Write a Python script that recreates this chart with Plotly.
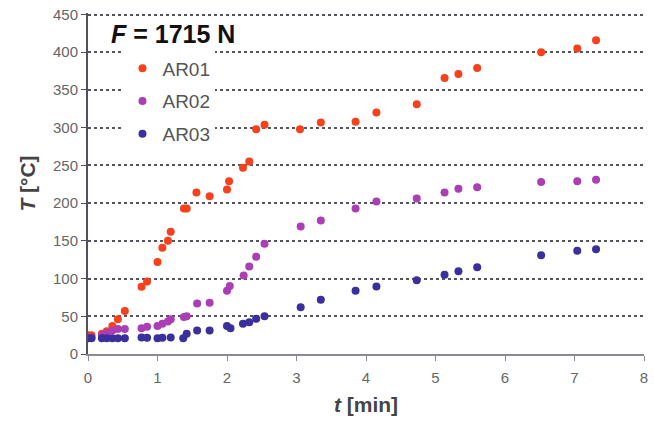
import plotly.graph_objects as go

t01 = [0, 0.05, 0.2, 0.27, 0.35, 0.43, 0.53, 0.77, 0.85, 1.0, 1.07, 1.15, 1.19, 1.38, 1.42,
       1.56, 1.75, 2.0, 2.03, 2.23, 2.32, 2.42, 2.54, 3.05, 3.35, 3.85, 4.15, 4.73, 5.13, 5.33,
       5.6, 6.52, 7.04, 7.31]
T01 = [25, 25, 27, 30, 37, 46, 57, 89, 96, 122, 141, 150, 162, 193, 193,
       214, 209, 218, 229, 247, 255, 298, 304, 298, 307, 308, 320, 331, 366, 371,
       379, 400, 405, 416]

t02 = [0, 0.05, 0.2, 0.27, 0.35, 0.43, 0.53, 0.77, 0.85, 1.0, 1.07, 1.15, 1.19, 1.38, 1.42,
       1.57, 1.75, 2.0, 2.04, 2.24, 2.32, 2.42, 2.54, 3.06, 3.35, 3.85, 4.15, 4.73, 5.13, 5.33,
       5.6, 6.52, 7.04, 7.31]
T02 = [22, 22, 25, 28, 31, 33, 33, 34, 36, 37, 40, 43, 46, 49, 50,
       67, 68, 84, 90, 104, 116, 129, 146, 169, 177, 193, 202, 206, 214, 219,
       221, 228, 229, 231]

t03 = [0, 0.05, 0.2, 0.27, 0.35, 0.43, 0.53, 0.77, 0.85, 1.0, 1.07, 1.19, 1.37, 1.42,
       1.57, 1.75, 2.0, 2.05, 2.23, 2.32, 2.42, 2.54, 3.06, 3.35, 3.85, 4.15, 4.73, 5.13, 5.33,
       5.6, 6.52, 7.04, 7.31]
T03 = [21, 21, 21, 21, 21, 21, 21, 22, 21.5, 21, 21.5, 22, 21, 27,
       31, 31, 37, 34, 40, 42, 46.6, 50, 62, 72, 84, 89.6, 97.6, 105, 109.6,
       115, 131, 137, 139]

series = [("AR01", t01, T01, "#f7401c"), ("AR02", t02, T02, "#ab3db5"), ("AR03", t03, T03, "#3a2f9c")]

fig = go.Figure()
for name, tx, ty, col in series:
    fig.add_trace(go.Scatter(x=tx, y=ty, mode="markers", name=name, legendgroup=name,
                             marker=dict(size=8, color=col, line=dict(width=0))))

FONT = "Liberation Sans, Arial, sans-serif"
fig.update_layout(
    width=654, height=427,
    margin=dict(l=88, r=6, t=12, b=73),
    paper_bgcolor="white", plot_bgcolor="white",
    font=dict(family=FONT, color="#555555"),
    showlegend=True,
    legend=dict(x=0.062, y=0.893, xanchor="left", yanchor="top", bgcolor="white",
                font=dict(size=19, color="#555555"), tracegroupgap=5,
                itemwidth=30),
    xaxis=dict(range=[0, 8], dtick=1, showgrid=False, zeroline=False,
               showline=True, linecolor="#8a8a95", linewidth=2,
               ticks="outside", ticklen=5, tickcolor="#8a8a95",
               tickfont=dict(size=15, color="#666666", family=FONT), ticklabelstandoff=4,
               title=dict(text="<b><i>t</i> [min]</b>", font=dict(size=21, color="#444444"), standoff=12)),
    yaxis=dict(range=[0, 452], dtick=50, showgrid=True, gridcolor="#555560", griddash="dot",
               gridwidth=1.6, zeroline=False,
               showline=True, linecolor="#50505e", linewidth=2,
               ticks="outside", ticklen=5, tickcolor="#50505e",
               tickfont=dict(size=15, color="#666666", family=FONT),
               title=dict(text="<b><i>T</i> [°C]</b>", font=dict(size=21, color="#444444"), standoff=12)),
)

fig.add_annotation(xref="paper", yref="paper", x=0.038, y=0.985, xanchor="left", yanchor="top",
                   text="<b><i>F</i> = 1715 N</b>", showarrow=False,
                   font=dict(size=25, color="#111111", family=FONT))

fig.write_html("out.html")
